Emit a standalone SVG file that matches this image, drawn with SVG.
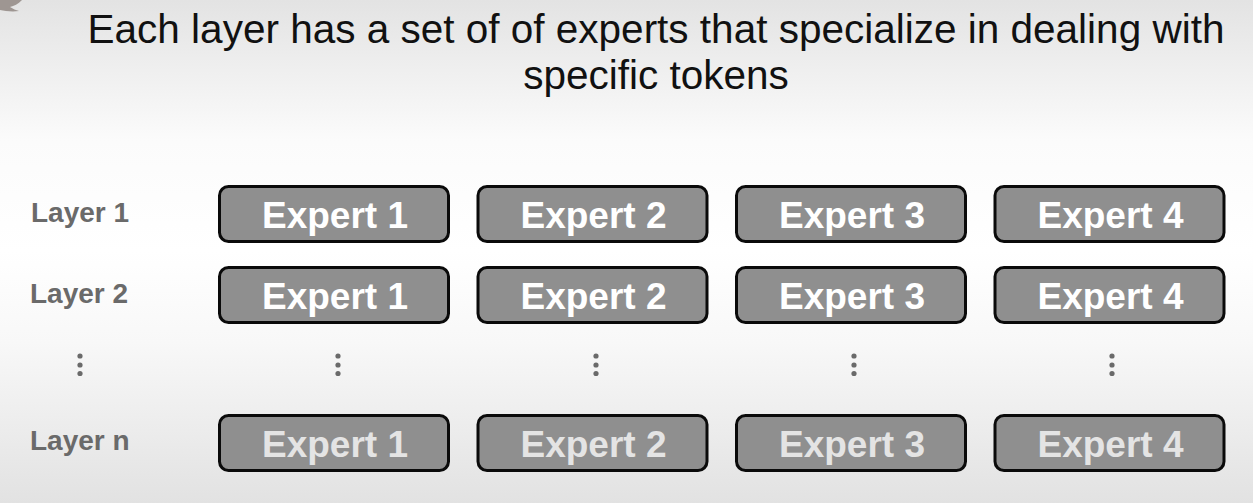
<svg xmlns="http://www.w3.org/2000/svg" width="1253" height="503" viewBox="0 0 1253 503">
  <defs>
    <linearGradient id="bg" x1="0" y1="0" x2="0" y2="1">
      <stop offset="0" stop-color="#e3e3e3"/>
      <stop offset="0.28" stop-color="#fbfbfb"/>
      <stop offset="0.5" stop-color="#ffffff"/>
      <stop offset="0.68" stop-color="#f8f8f8"/>
      <stop offset="1" stop-color="#e2e2e2"/>
    </linearGradient>
    <style>
      .title { font-family: "Liberation Sans", Arial, sans-serif; font-size: 40.5px; fill: #111111; }
      .layer { font-family: "Liberation Sans", Arial, sans-serif; font-size: 28px; font-weight: bold; fill: #6a6a6a; }
      .box { fill: #8f8f8f; stroke: #0a0a0a; stroke-width: 3; }
      .label { font-family: "Liberation Sans", Arial, sans-serif; font-size: 37px; font-weight: bold; fill: #ffffff; text-anchor: middle; }
      .faded .label { fill: #e4e4e4; }
      .dot { fill: #6a6a6a; }
    </style>
    <g id="vdots">
      <circle class="dot" cx="0" cy="356" r="2.6"/>
      <circle class="dot" cx="0" cy="365" r="2.6"/>
      <circle class="dot" cx="0" cy="373.5" r="2.6"/>
    </g>
  </defs>

  <rect width="1253" height="503" fill="url(#bg)"/>

  <!-- corner logo fragment -->
  <path d="M0 0 H22 C18 4 14 6 10 7 C13 9 16 10 19 11 C12 12 5 11 0 10 Z" fill="#8c827d" opacity="0.8"/>

  <!-- heading -->
  <text class="title" x="656" y="43" text-anchor="middle">Each layer has a set of of experts that specialize in dealing with</text>
  <text class="title" x="656" y="89" text-anchor="middle">specific tokens</text>

  <!-- layer labels -->
  <g id="layer-labels">
    <text class="layer" x="31" y="222">Layer 1</text>
    <text class="layer" x="30" y="303">Layer 2</text>
    <use href="#vdots" x="80"/>
    <text class="layer" x="30" y="450">Layer n</text>
  </g>

  <!-- layer 1 -->
  <g id="l1-e1"><rect class="box" x="219.5" y="186.5" width="229" height="55" rx="9"/><text class="label" x="335" y="228">Expert 1</text></g>
  <g id="l1-e2"><rect class="box" x="478" y="186.5" width="229" height="55" rx="9"/><text class="label" x="593.5" y="228">Expert 2</text></g>
  <g id="l1-e3"><rect class="box" x="736.5" y="186.5" width="229" height="55" rx="9"/><text class="label" x="852" y="228">Expert 3</text></g>
  <g id="l1-e4"><rect class="box" x="995" y="186.5" width="229" height="55" rx="9"/><text class="label" x="1110.5" y="228">Expert 4</text></g>

  <!-- layer 2 -->
  <g id="l2-e1"><rect class="box" x="219.5" y="267.5" width="229" height="55" rx="9"/><text class="label" x="335" y="309">Expert 1</text></g>
  <g id="l2-e2"><rect class="box" x="478" y="267.5" width="229" height="55" rx="9"/><text class="label" x="593.5" y="309">Expert 2</text></g>
  <g id="l2-e3"><rect class="box" x="736.5" y="267.5" width="229" height="55" rx="9"/><text class="label" x="852" y="309">Expert 3</text></g>
  <g id="l2-e4"><rect class="box" x="995" y="267.5" width="229" height="55" rx="9"/><text class="label" x="1110.5" y="309">Expert 4</text></g>

  <!-- ellipsis between layers -->
  <g id="gap-dots">
    <use href="#vdots" x="338"/>
    <use href="#vdots" x="596"/>
    <use href="#vdots" x="854"/>
    <use href="#vdots" x="1112"/>
  </g>

  <!-- layer n -->
  <g class="faded">
    <g id="ln-e1"><rect class="box" x="219.5" y="415.5" width="229" height="55" rx="9"/><text class="label" x="335" y="457">Expert 1</text></g>
    <g id="ln-e2"><rect class="box" x="478" y="415.5" width="229" height="55" rx="9"/><text class="label" x="593.5" y="457">Expert 2</text></g>
    <g id="ln-e3"><rect class="box" x="736.5" y="415.5" width="229" height="55" rx="9"/><text class="label" x="852" y="457">Expert 3</text></g>
    <g id="ln-e4"><rect class="box" x="995" y="415.5" width="229" height="55" rx="9"/><text class="label" x="1110.5" y="457">Expert 4</text></g>
  </g>

  <!-- connectors: none drawn -->
  <g id="connectors"/>
</svg>
